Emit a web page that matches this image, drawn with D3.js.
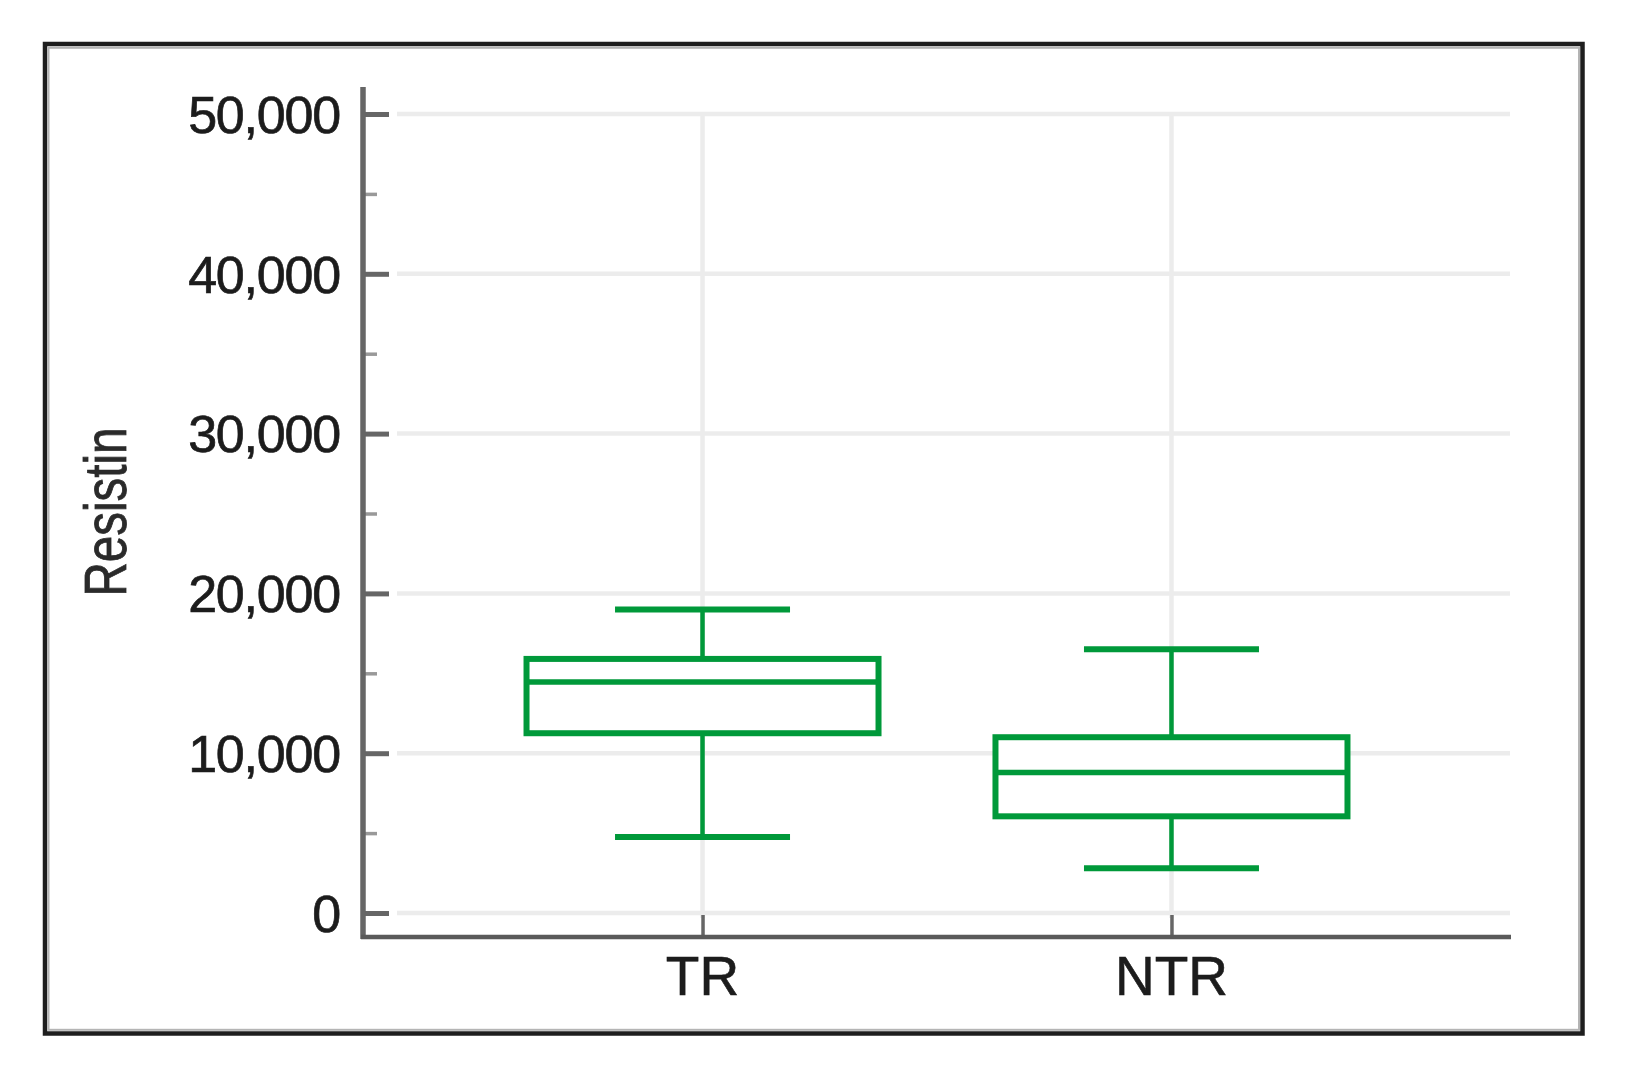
<!DOCTYPE html>
<html>
<head>
<meta charset="utf-8">
<script src="https://cdn.jsdelivr.net/npm/d3@7"></script>
<style>
body{margin:0;background:#fff;}
text{font-family:"Liberation Sans",Arial,sans-serif;}
</style>
</head>
<body>
<svg id="boxGraph"></svg>
<script>
var categories = ["TR","NTR"];
var whiskerLow  = [4750, 2800];
var q1          = [11250, 6050];
var median      = [14450, 8800];
var q3          = [15900, 11000];
var whiskerHigh = [19000, 16500];
var yTicks = [0,10000,20000,30000,40000,50000];
var yMinorTicks = [5000,15000,25000,35000,45000];
var yLabel = "Resistin";

drawBox("#boxGraph");

function drawBox(id){
	var svgWidth = 1628;
	var svgHeight = 1070;
	var green = "#00993a";
	var boxWidth = 352;
	var capWidth = 175;

	var svg = d3.select(id)
		.attr("width",svgWidth)
		.attr("height",svgHeight);

	// outer frame
	svg.append("rect")
		.attr("x",45).attr("y",44)
		.attr("width",1537.5).attr("height",989.5)
		.attr("fill","#fff")
		.attr("stroke","#1e1e1e")
		.attr("stroke-width",4.5);
	svg.append("rect")
		.attr("x",48.5).attr("y",47.8)
		.attr("width",1530.5).attr("height",982)
		.attr("fill","none")
		.attr("stroke","#b4b4b4")
		.attr("stroke-width",2);

	var x = d3.scalePoint()
		.domain(categories)
		.range([363,1511])
		.padding(0.724);
	var y = d3.scaleLinear()
		.domain([0,50000])
		.range([913,114]);

	// grid
	svg.selectAll(".hgrid")
		.data(yTicks)
		.enter()
		.append("line")
		.attr("x1",397).attr("x2",1510)
		.attr("y1",function(d){return y(d);})
		.attr("y2",function(d){return y(d);})
		.attr("stroke","#ececec")
		.attr("stroke-width",4.5);
	svg.selectAll(".vgrid")
		.data(categories)
		.enter()
		.append("line")
		.attr("x1",function(d){return x(d);})
		.attr("x2",function(d){return x(d);})
		.attr("y1",y(50000)).attr("y2",918)
		.attr("stroke","#ececec")
		.attr("stroke-width",4.5);

	// y axis
	var yAxis = svg.append("g")
		.attr("transform","translate(363,0)")
		.call(d3.axisRight(y).tickValues(yTicks).tickSize(26).tickFormat(""));
	yAxis.select(".domain").remove();
	yAxis.selectAll("line").attr("stroke","#666").attr("stroke-width",5);
	var yMinor = svg.append("g")
		.attr("transform","translate(363,0)")
		.call(d3.axisRight(y).tickValues(yMinorTicks).tickSize(14).tickFormat(""));
	yMinor.select(".domain").remove();
	yMinor.selectAll("line").attr("stroke","#999").attr("stroke-width",3.5);

	svg.selectAll(".ylab")
		.data(yTicks)
		.enter()
		.append("text")
		.attr("x",340)
		.attr("y",function(d){return y(d);})
		.attr("dy","0.36em")
		.attr("text-anchor","end")
		.attr("font-size","52px")
		.attr("letter-spacing","-1.2px")
		.attr("fill","#1c1c1c")
		.attr("stroke","#1c1c1c")
		.attr("stroke-width",0.7)
		.text(d3.format(","));

	svg.append("line")
		.attr("x1",363).attr("x2",363)
		.attr("y1",87).attr("y2",939)
		.attr("stroke","#666")
		.attr("stroke-width",5.5);

	// x axis
	var xAxis = svg.append("g")
		.attr("transform","translate(0,937)")
		.call(d3.axisTop(x).tickSize(22).tickFormat(""));
	xAxis.select(".domain").remove();
	xAxis.selectAll("line").attr("stroke","#666").attr("stroke-width",3.5);
	svg.append("line")
		.attr("x1",361).attr("x2",1511)
		.attr("y1",937).attr("y2",937)
		.attr("stroke","#5a5a5a")
		.attr("stroke-width",4.5);
	svg.selectAll(".xlab")
		.data(categories)
		.enter()
		.append("text")
		.attr("x",function(d){return x(d);})
		.attr("y",995)
		.attr("text-anchor","middle")
		.attr("font-size","55px")
		.attr("fill","#1c1c1c")
		.attr("stroke","#1c1c1c")
		.attr("stroke-width",0.6)
		.text(function(d){return d;});

	// y title
	svg.append("text")
		.attr("transform","translate(126,512) rotate(-90)")
		.attr("text-anchor","middle")
		.attr("font-size","60px")
		.attr("textLength",169)
		.attr("lengthAdjust","spacingAndGlyphs")
		.attr("fill","#2a2a2a")
		.attr("stroke","#2a2a2a")
		.attr("stroke-width",0.8)
		.text(yLabel);

	// boxes
	var g = svg.selectAll(".box")
		.data(categories)
		.enter()
		.append("g");
	g.append("line")
		.attr("x1",function(d){return x(d);})
		.attr("x2",function(d){return x(d);})
		.attr("y1",function(d,i){return y(whiskerLow[i]);})
		.attr("y2",function(d,i){return y(whiskerHigh[i]);})
		.attr("stroke",green)
		.attr("stroke-width",4.5);
	g.append("rect")
		.attr("x",function(d){return x(d)-boxWidth/2;})
		.attr("y",function(d,i){return y(q3[i]);})
		.attr("width",boxWidth)
		.attr("height",function(d,i){return y(q1[i])-y(q3[i]);})
		.attr("fill","#fff")
		.attr("stroke",green)
		.attr("stroke-width",6);
	g.append("line")
		.attr("x1",function(d){return x(d)-boxWidth/2;})
		.attr("x2",function(d){return x(d)+boxWidth/2;})
		.attr("y1",function(d,i){return y(median[i]);})
		.attr("y2",function(d,i){return y(median[i]);})
		.attr("stroke",green)
		.attr("stroke-width",5.5);
	[whiskerLow,whiskerHigh].forEach(function(arr){
		g.append("line")
			.attr("x1",function(d){return x(d)-capWidth/2;})
			.attr("x2",function(d){return x(d)+capWidth/2;})
			.attr("y1",function(d,i){return y(arr[i]);})
			.attr("y2",function(d,i){return y(arr[i]);})
			.attr("stroke",green)
			.attr("stroke-width",6);
	});
}
</script>
</body>
</html>
